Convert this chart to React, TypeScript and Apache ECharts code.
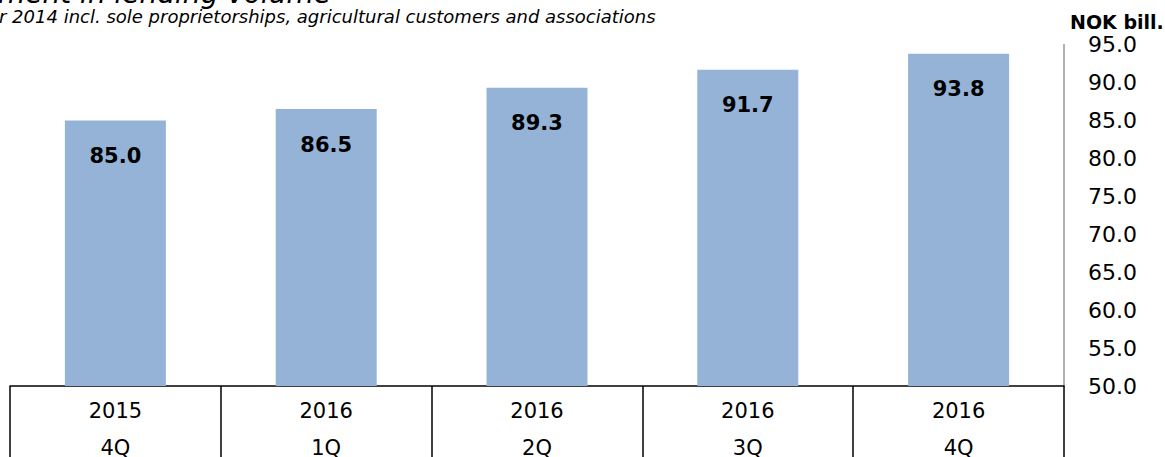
import React, { useEffect, useRef } from "react";
import * as echarts from "echarts";

const years = ["2015", "2016", "2016", "2016", "2016"];
const quarters = ["4Q", "1Q", "2Q", "3Q", "4Q"];
const volumes = [85.0, 86.5, 89.3, 91.7, 93.8];
const yTicks = { min: 50, max: 95, interval: 5 };
const titleText = "Development in lending volume";
const subtitleText = "r 2014 incl. sole proprietorships, agricultural customers and associations";
const unitText = "NOK bill.";

const FONT = "DejaVu Sans";

export default function App() {
  const ref = useRef<HTMLDivElement>(null);
  useEffect(() => {
    document.body.style.margin = "0";
    if (!ref.current) return;
    const chart = echarts.init(ref.current, undefined, { renderer: "svg", width: 1165, height: 457 });
    const categories = years.map((y, i) => `${y}\n${quarters[i]}`);
    chart.setOption({
      animation: false,
      grid: {
        left: 10,
        right: 101,
        top: 44.6,
        bottom: 71,
        containLabel: false,
        outerBoundsMode: "none",
      },
      graphic: [
        {
          type: "text",
          right: 1165 - 331,
          top: -21,
          style: { text: titleText, font: `italic 28px "${FONT}"`, fill: "#000" },
        },
        {
          type: "text",
          left: -1,
          top: 7,
          style: { text: subtitleText, font: `italic 18px "${FONT}"`, fill: "#000" },
        },
        {
          type: "text",
          left: 1070,
          top: 12,
          style: { text: unitText, font: `bold 19px "${FONT}"`, fill: "#000" },
        },
      ],
      xAxis: {
        type: "category",
        data: categories,
        boundaryGap: true,
        axisLine: { show: true, lineStyle: { color: "#000", width: 1.5 } },
        axisTick: { show: true, length: 75, lineStyle: { color: "#000", width: 1.5 } },
        axisLabel: {
          margin: 6,
          fontFamily: FONT,
          fontSize: 21,
          color: "#000",
          lineHeight: 37,
        },
      },
      yAxis: {
        type: "value",
        position: "right",
        min: yTicks.min,
        max: yTicks.max,
        interval: yTicks.interval,
        splitLine: { show: false },
        axisLine: { show: true, lineStyle: { color: "#999", width: 1.5 } },
        axisTick: { show: false },
        axisLabel: {
          margin: 24,
          fontFamily: FONT,
          fontSize: 22,
          color: "#000",
          formatter: (v: number) => v.toFixed(1),
        },
      },
      series: [
        {
          type: "bar",
          data: volumes,
          barWidth: 101,
          itemStyle: { color: "#95B3D7" },
          label: {
            show: true,
            position: "insideTop",
            distance: 25,
            fontFamily: FONT,
            fontWeight: "bold",
            fontSize: 21,
            color: "#000",
            formatter: (p: any) => Number(p.value).toFixed(1),
          },
        },
      ],
    });
    return () => chart.dispose();
  }, []);
  return <div ref={ref} style={{ width: 1165, height: 457 }} />;
}
